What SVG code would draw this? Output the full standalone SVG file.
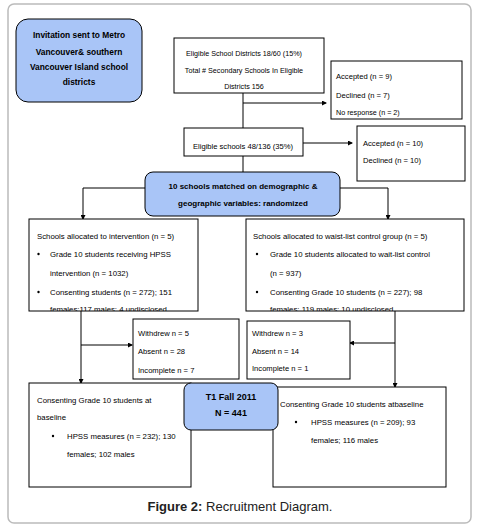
<svg xmlns="http://www.w3.org/2000/svg" width="477" height="529" viewBox="0 0 477 529">
<style>
.bx{fill:#fff;stroke:#000;stroke-width:1}
.bl{fill:#a9c5f7;stroke:#000;stroke-width:1}
.t{font-family:"Liberation Sans",Arial,sans-serif;font-size:7.8px;fill:#000}
.s{font-size:7.2px}
.m{font-size:7.6px}
.b{font-family:"Liberation Sans",Arial,sans-serif;font-size:8px;font-weight:bold;fill:#000}
.c{text-anchor:middle}
.ln{fill:none;stroke:#000;stroke-width:1}
</style>
<defs>
<marker id="ah" markerWidth="5" markerHeight="5" refX="4" refY="2.5" orient="auto" markerUnits="userSpaceOnUse">
<path d="M0,0 L5,2.5 L0,5 Z" fill="#000"/>
</marker>
<clipPath id="clipL"><rect x="29" y="219" width="169" height="92"/></clipPath>
<clipPath id="clipR"><rect x="246" y="219" width="218" height="92"/></clipPath>
</defs>
<rect x="8" y="4" width="463" height="519" rx="6" fill="#fff" stroke="#bbb" stroke-width="1.5"/>

<g id="connectors">
<path class="ln" d="M243,93 V128"/>
<path class="ln" d="M243,103 H326" marker-end="url(#ah)"/>
<path class="ln" d="M303,143 H352" marker-end="url(#ah)"/>
<path class="ln" d="M243,156 V172"/>
<path class="ln" d="M145,188 H83 V219" marker-end="url(#ah)"/>
<path class="ln" d="M340,188 H388 V219" marker-end="url(#ah)"/>
<path class="ln" d="M81,311 V383" marker-end="url(#ah)"/>
<path class="ln" d="M81,345 H132" marker-end="url(#ah)"/>
<path class="ln" d="M395,311 V387" marker-end="url(#ah)"/>
<path class="ln" d="M395,343 H350" marker-end="url(#ah)"/>
</g>

<g id="invitation">
<rect class="bl" x="16" y="19" width="126" height="83" rx="12"/>
<text class="b c" x="79" y="38" style="font-size:8.4px">Invitation sent to Metro</text>
<text class="b c" x="79" y="55" style="font-size:8.4px">Vancouver&amp; southern</text>
<text class="b c" x="79" y="70" style="font-size:8.4px">Vancouver Island school</text>
<text class="b c" x="79" y="85" style="font-size:8.4px">districts</text>
</g>

<g id="districts">
<rect class="bx" x="174" y="38" width="150" height="55"/>
<text class="t s c" x="244" y="56">Eligible School Districts 18/60 (15%)</text>
<text class="t s c" x="244" y="73">Total # Secondary Schools In Eligible</text>
<text class="t s c" x="244" y="89">Districts 156</text>
</g>

<g id="accepted-districts">
<rect class="bx" x="331" y="61" width="131" height="58"/>
<text class="t m" x="336" y="79">Accepted (n = 9)</text>
<text class="t m" x="336" y="98">Declined (n = 7)</text>
<text class="t s" x="336" y="115">No response (n = 2)</text>
</g>

<g id="eligible-schools">
<rect class="bx" x="184" y="128" width="119" height="28"/>
<text class="t m c" x="243" y="149">Eligible schools 48/136 (35%)</text>
</g>

<g id="accepted-schools">
<rect class="bx" x="357" y="126" width="108" height="55"/>
<text class="t m" x="363" y="146">Accepted (n = 10)</text>
<text class="t m" x="363" y="163">Declined (n = 10)</text>
</g>

<g id="matched">
<rect class="bl" x="145" y="172" width="195" height="44" rx="8"/>
<text class="b c" x="243" y="189">10 schools matched on demographic &amp;</text>
<text class="b c" x="243" y="206">geographic variables: randomized</text>
</g>

<g id="intervention">
<rect class="bx" x="29" y="219" width="169" height="92"/>
<text class="t" x="37" y="238.5">Schools allocated to intervention (n = 5)</text>
<circle cx="38.5" cy="254" r="1.2" fill="#000"/>
<text class="t" x="50" y="256.5">Grade 10 students receiving HPSS</text>
<text class="t" x="50" y="275.5">intervention (n = 1032)</text>
<circle cx="38.5" cy="292" r="1.2" fill="#000"/>
<text class="t" x="50" y="294.5">Consenting students (n = 272); 151</text>
<text class="t" x="50" y="312.3" clip-path="url(#clipL)">females;117 males; 4 undisclosed</text>
</g>

<g id="waitlist">
<rect class="bx" x="246" y="219" width="218" height="92"/>
<text class="t" x="253" y="238.5">Schools allocated to waist-list control group (n = 5)</text>
<circle cx="257" cy="254" r="1.2" fill="#000"/>
<text class="t" x="270" y="256.5">Grade 10 students allocated to wait-list control</text>
<text class="t" x="270" y="275.5">(n = 937)</text>
<circle cx="257" cy="292" r="1.2" fill="#000"/>
<text class="t" x="270" y="294.5">Consenting Grade 10 students (n = 227); 98</text>
<text class="t" x="270" y="312.3" clip-path="url(#clipR)">females; 119 males; 10 undisclosed</text>
</g>

<g id="withdrew-left">
<rect class="bx" x="133" y="319" width="106" height="60"/>
<text class="t m" x="138" y="335.5">Withdrew n = 5</text>
<text class="t m" x="138" y="353.5">Absent n = 28</text>
<text class="t m" x="138" y="372.5">Incomplete   n = 7</text>
</g>

<g id="withdrew-right">
<rect class="bx" x="247" y="321" width="103" height="58"/>
<text class="t m" x="252" y="335.5">Withdrew n = 3</text>
<text class="t m" x="252" y="353.5">Absent n = 14</text>
<text class="t m" x="252" y="370.5">Incomplete  n = 1</text>
</g>

<g id="baseline-left">
<rect class="bx" x="29" y="383" width="162" height="104"/>
<text class="t" x="37" y="402.5">Consenting Grade 10 students at</text>
<text class="t" x="37" y="419.5">baseline</text>
<circle cx="53" cy="436" r="1.2" fill="#000"/>
<text class="t" x="67" y="438.5">HPSS measures (n = 232); 130</text>
<text class="t" x="67" y="456.5">females; 102 males</text>
</g>

<g id="baseline-right">
<rect class="bx" x="273" y="387" width="173" height="100"/>
<text class="t" x="280" y="406.5">Consenting Grade 10 students atbaseline</text>
<circle cx="296" cy="422" r="1.2" fill="#000"/>
<text class="t" x="311" y="424.5">HPSS measures (n = 209); 93</text>
<text class="t" x="311" y="442.5">females; 116 males</text>
</g>

<g id="t1">
<rect class="bl" x="184" y="383" width="94" height="47" rx="7"/>
<text class="b c" x="231" y="400" style="font-size:9px">T1 Fall 2011</text>
<text class="b c" x="231" y="416" style="font-size:9px">N = 441</text>
</g>

<text x="240" y="511" text-anchor="middle" style="font-family:'Liberation Sans',Arial,sans-serif;font-size:13px;fill:#222"><tspan font-weight="bold">Figure 2:</tspan> Recruitment Diagram.</text>
</svg>
